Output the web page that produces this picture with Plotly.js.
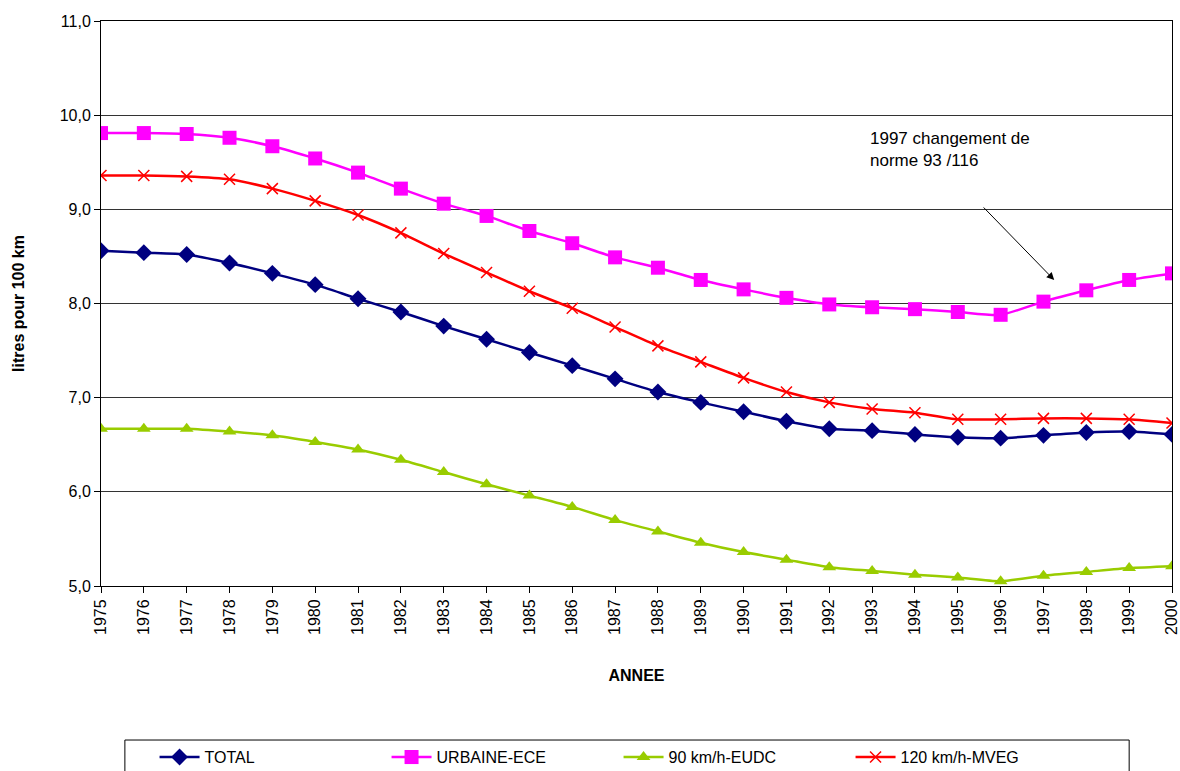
<!DOCTYPE html>
<html>
<head>
<meta charset="utf-8">
<script src="https://cdn.plot.ly/plotly-3.0.1.min.js"></script>
<style>html,body{margin:0;padding:0;background:#fff;}#chart{width:1180px;height:771px;}</style>
</head>
<body>
<div id="chart"></div>
<script>
const years = [1975,1976,1977,1978,1979,1980,1981,1982,1983,1984,1985,1986,1987,1988,1989,1990,1991,1992,1993,1994,1995,1996,1997,1998,1999,2000];
const total = [8.56,8.54,8.52,8.43,8.32,8.20,8.05,7.91,7.76,7.62,7.48,7.34,7.20,7.06,6.95,6.85,6.75,6.67,6.65,6.61,6.58,6.57,6.60,6.63,6.64,6.61];
const urbaine = [9.81,9.81,9.80,9.76,9.67,9.54,9.39,9.22,9.06,8.93,8.77,8.64,8.49,8.38,8.25,8.15,8.06,7.99,7.96,7.94,7.91,7.88,8.02,8.14,8.25,8.32];
const eudc = [6.67,6.67,6.67,6.64,6.60,6.53,6.45,6.34,6.21,6.08,5.96,5.84,5.70,5.58,5.46,5.36,5.28,5.20,5.16,5.12,5.09,5.05,5.11,5.15,5.19,5.21];
const mveg = [9.36,9.36,9.35,9.32,9.22,9.09,8.94,8.75,8.53,8.33,8.13,7.95,7.75,7.55,7.38,7.21,7.06,6.95,6.88,6.84,6.77,6.77,6.78,6.78,6.77,6.73];
const seriesNames = ['TOTAL','URBAINE-ECE','90 km/h-EUDC','120 km/h-MVEG'];
const yTicks = [5,6,7,8,9,10,11];
const annotationText = '1997 changement de<br>norme 93 /116';

const font = 'Liberation Sans, Arial, sans-serif';
const traces = [
  {x: years, y: total, name: seriesNames[0], mode: 'lines+markers', line: {color: '#000080', width: 2.5, shape: 'spline', smoothing: 0.6}, marker: {symbol: 'diamond', size: 13, color: '#000080'}},
  {x: years, y: urbaine, name: seriesNames[1], mode: 'lines+markers', line: {color: '#FF00FF', width: 2.5, shape: 'spline', smoothing: 0.6}, marker: {symbol: 'square', size: 14, color: '#FF00FF'}},
  {x: years, y: eudc, name: seriesNames[2], mode: 'lines+markers', line: {color: '#99CC00', width: 2.5, shape: 'spline', smoothing: 0.6}, marker: {symbol: 'triangle-up', size: 12, color: '#99CC00'}},
  {x: years, y: mveg, name: seriesNames[3], mode: 'lines+markers', line: {color: '#FF0000', width: 2.5, shape: 'spline', smoothing: 0.6}, marker: {symbol: 'x-thin', size: 11, color: '#FF0000', line: {color: '#FF0000', width: 1.5}}}
];
const layout = {
  width: 1180, height: 771,
  margin: {l: 101, r: 8, t: 21, b: 185},
  paper_bgcolor: '#fff', plot_bgcolor: '#fff',
  separators: ',.',
  font: {family: font, size: 16, color: '#000'},
  showlegend: true,
  xaxis: {
    range: [1975, 2000], tickmode: 'array', tickvals: years, ticktext: years.map(String), tickangle: -90,
    showgrid: false, zeroline: false, showline: true, linecolor: '#000', linewidth: 1, mirror: true,
    ticks: 'outside', ticklen: 6, tickcolor: '#000', automargin: false, ticklabeloverflow: 'allow',
    tickfont: {family: font, size: 16, color: '#000'},
    title: {text: '<b>ANNEE</b>', font: {family: font, size: 16, color: '#000'}, standoff: 35}
  },
  yaxis: {
    range: [5, 11], tickmode: 'array', tickvals: yTicks, tickformat: '.1f',
    showgrid: true, gridcolor: '#333', gridwidth: 1, zeroline: false,
    showline: true, linecolor: '#000', linewidth: 1, mirror: true,
    ticks: 'outside', ticklen: 6, tickcolor: '#000', automargin: false,
    tickfont: {family: font, size: 16, color: '#000'},
    title: {text: '<b>litres pour 100 km</b>', font: {family: font, size: 16, color: '#000'}, standoff: 31}
  },
  legend: {
    orientation: 'h', x: 0.05, xanchor: 'left', yref: 'container', y: 0.04, yanchor: 'top',
    borderwidth: 0, bgcolor: 'rgba(0,0,0,0)',
    font: {family: font, size: 16, color: '#000'},
    entrywidth: 177, entrywidthmode: 'pixels', itemwidth: 40
  },
  shapes: [
    {type: 'rect', xref: 'paper', yref: 'paper', x0: 0.0223, x1: 0.96, y0: -0.2726, y1: -0.36, line: {color: '#000', width: 1}, fillcolor: 'rgba(0,0,0,0)'}
  ],
  annotations: [
    {x: 1997.25, y: 8.25, xref: 'x', yref: 'y', text: '', showarrow: true, arrowhead: 2, arrowsize: 1.5, arrowwidth: 1, arrowcolor: '#000', ax: -72, ay: -74},
    {x: 1992.9, y: 9.87, xref: 'x', yref: 'y', text: annotationText, showarrow: false, xanchor: 'left', yanchor: 'top', align: 'left', font: {family: font, size: 17, color: '#000'}}
  ]
};
Plotly.newPlot('chart', traces, layout, {displayModeBar: false, staticPlot: true});
</script>
</body>
</html>
